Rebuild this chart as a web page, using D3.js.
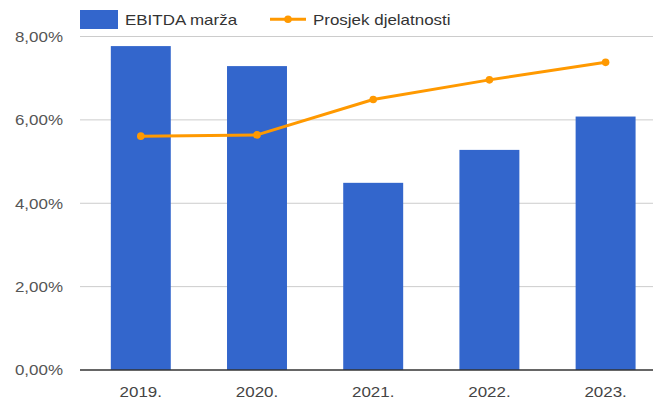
<!DOCTYPE html>
<html>
<head>
<meta charset="utf-8">
<script src="https://cdn.jsdelivr.net/npm/d3@7"></script>
<style>
  html, body { margin: 0; padding: 0; background: #fff; }
  svg { display: block; }
  text { font-family: "Liberation Sans", Arial, sans-serif; font-size: 15px; }
</style>
</head>
<body>
<svg id="chart" width="653" height="401"></svg>
<script>
const categories = ["2019.", "2020.", "2021.", "2022.", "2023."];
const ebitdaMarza = [7.77, 7.29, 4.49, 5.28, 6.08];
const prosjekDjelatnosti = [5.61, 5.64, 6.49, 6.96, 7.38];
const yTicks = [0, 2, 4, 6, 8];
const seriesNames = ["EBITDA marža", "Prosjek djelatnosti"];
const colors = ["#3366cc", "#ff9900"];

const svg = d3.select("#chart");
const W = 653, H = 401;
const plotLeft = 80, plotRight = 653;
const SX = 1.13;

const x = d3.scaleBand().domain(categories).range([82.7, 663.7]).paddingInner(0.484).paddingOuter(0.242);
const y = d3.scaleLinear().domain([0, 8]).range([370, 36.5]);

const fmt = v => d3.format(".2f")(v).replace(".", ",") + "%";

// gridlines
svg.append("g").selectAll("line").data(yTicks.filter(t => t !== 0)).join("line")
  .attr("x1", plotLeft).attr("x2", plotRight)
  .attr("y1", d => y(d)).attr("y2", d => y(d))
  .attr("stroke", "#cccccc").attr("stroke-width", 1);

// y labels
svg.append("g").selectAll("text").data(yTicks).join("text")
  .attr("transform", d => `translate(63,${y(d) + 5.3}) scale(${SX},1)`)
  .attr("text-anchor", "end").attr("fill", "#555")
  .text(d => fmt(d));

// bars
svg.append("g").selectAll("rect").data(ebitdaMarza).join("rect")
  .attr("x", (d, i) => x(categories[i]))
  .attr("width", x.bandwidth())
  .attr("y", d => y(d))
  .attr("height", d => y(0) - y(d))
  .attr("fill", colors[0]);

// baseline
svg.append("line").attr("x1", plotLeft).attr("x2", plotRight)
  .attr("y1", y(0)).attr("y2", y(0))
  .attr("stroke", "#333").attr("stroke-width", 1.5);

// x labels
svg.append("g").selectAll("text").data(categories).join("text")
  .attr("transform", d => `translate(${x(d) + x.bandwidth() / 2},396.5) scale(${SX},1)`)
  .attr("text-anchor", "middle").attr("fill", "#444")
  .text(d => d);

// line
const cx = i => x(categories[i]) + x.bandwidth() / 2;
const line = d3.line().x((d, i) => cx(i)).y(d => y(d));
svg.append("path").datum(prosjekDjelatnosti)
  .attr("d", line).attr("fill", "none")
  .attr("stroke", colors[1]).attr("stroke-width", 3)
  .attr("stroke-linejoin", "round");
svg.append("g").selectAll("circle").data(prosjekDjelatnosti).join("circle")
  .attr("cx", (d, i) => cx(i)).attr("cy", d => y(d)).attr("r", 3.8)
  .attr("fill", colors[1]);

// legend
const lg = svg.append("g");
lg.append("rect").attr("x", 80).attr("y", 10).attr("width", 38).attr("height", 19).attr("fill", colors[0]);
lg.append("text").attr("transform", `translate(125,25) scale(${SX},1)`).attr("fill", "#333").text(seriesNames[0]);
lg.append("line").attr("x1", 270).attr("x2", 306).attr("y1", 19.3).attr("y2", 19.3)
  .attr("stroke", colors[1]).attr("stroke-width", 3);
lg.append("circle").attr("cx", 288).attr("cy", 19.3).attr("r", 3.8).attr("fill", colors[1]);
lg.append("text").attr("transform", `translate(313,25) scale(${SX},1)`).attr("fill", "#333").text(seriesNames[1]);
</script>
</body>
</html>
